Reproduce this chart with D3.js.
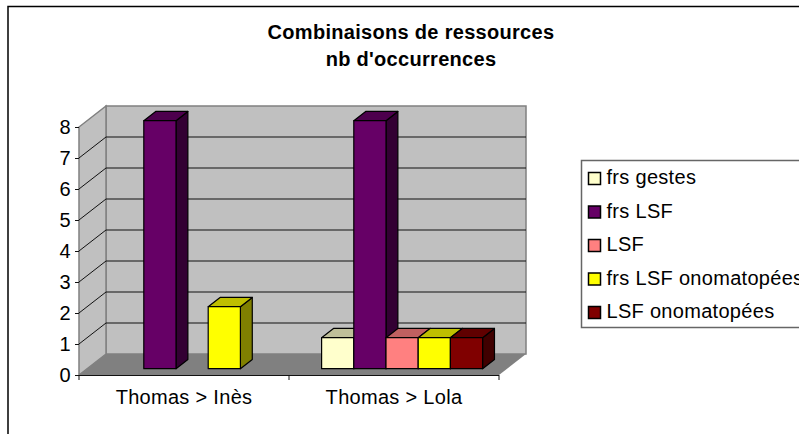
<!DOCTYPE html>
<html>
<head>
<meta charset="utf-8">
<script src="https://cdn.jsdelivr.net/npm/d3@7"></script>
<style>
	html, body { margin: 0; padding: 0; background: #fff; overflow: hidden; }
	svg { display: block; }
	text { font-family: "Liberation Sans", Arial, sans-serif; fill: #000; letter-spacing: 0.3px; }
</style>
</head>
<body>
<script>
const categories = ["Thomas > Inès", "Thomas > Lola"];
const seriesNames = ["frs gestes", "frs LSF", "LSF", "frs LSF onomatopées", "LSF onomatopées"];
const seriesColors = ["#ffffcc", "#660066", "#ff8080", "#ffff00", "#800000"];
const inesValues = [0, 8, 0, 2, 0];
const lolaValues = [1, 8, 1, 1, 1];
const valuesByCategory = [inesValues, lolaValues];
const yTicks = [0, 1, 2, 3, 4, 5, 6, 7, 8];
const titleLines = ["Combinaisons de ressources", "nb d'occurrences"];

const width = 799;
const height = 434;

const svg = d3
	.select("body")
	.append("svg")
	.attr("width", width)
	.attr("height", height)
	.attr("viewBox", [0, 0, width, height]);

// chart frame, only top and left are in the picture
svg.append("path")
	.attr("d", "M8,434V6.5H799")
	.attr("fill", "none")
	.attr("stroke", "#000")
	.attr("stroke-width", 1.5);

// * SCALES
const x = d3.scaleBand().domain(categories).range([79, 499]);
const y = d3.scaleLinear().domain([0, 8]).range([375, 127]);
const series = d3
	.scaleBand()
	.domain(seriesNames)
	.range([0, 161]);

// 3D offset of the box: d = 0 front, d = 1 back
const depthX = 27;
const depthY = -21;
const project = (px, py, d) => [px + depthX * d, py + depthY * d];
const poly = (pts) => pts.map((p) => p.join(",")).join(" ");

// * WALLS
const [x0, x1] = x.range();
const wall = svg.append("g");
wall.append("polygon")
	.attr("points", poly([project(x0, y(0), 1), project(x1, y(0), 1), project(x1, y(8), 1), project(x0, y(8), 1)]))
	.attr("fill", "#c0c0c0")
	.attr("stroke", "#808080")
	.attr("stroke-width", 1.5);
wall.append("polygon")
	.attr("points", poly([project(x0, y(0), 0), project(x0, y(0), 1), project(x0, y(8), 1), project(x0, y(8), 0)]))
	.attr("fill", "#c0c0c0")
	.attr("stroke", "#808080")
	.attr("stroke-width", 1.5);
wall.append("polygon")
	.attr("points", poly([project(x0, y(0), 0), project(x1, y(0), 0), project(x1, y(0), 1), project(x0, y(0), 1)]))
	.attr("fill", "#808080");

// * GRIDLINES
const grid = yTicks.filter((t) => t > 0 && t < 8);
wall.selectAll("path.grid")
	.data(grid)
	.join("path")
	.attr("class", "grid")
	.attr("fill", "none")
	.attr("stroke", "#111")
	.attr("d", (t) => {
		const a = project(x0, y(t), 0);
		const b = project(x0, y(t), 1);
		const c = project(x1, y(t), 1);
		return `M${a}L${b}L${c}`;
	});

// * BARS
const depthFront = 0.3;
const depthBack = 0.74;
const barsPadding = (x.bandwidth() - series.range()[1]) / 2;
const bars = [];
categories.forEach((cat, i) => {
	valuesByCategory[i].forEach((v, j) => {
		if (v > 0) bars.push({ cat, name: seriesNames[j], color: seriesColors[j], v });
	});
});

// left to right, each bar covers the side of the one before
const barG = svg
	.append("g")
	.selectAll("g")
	.data(bars)
	.join("g")
	.attr("stroke", "#000")
	.attr("stroke-width", 1.2)
	.attr("stroke-linejoin", "round");

const barLeft = (d) => x(d.cat) + barsPadding + series(d.name);
const barRight = (d) => barLeft(d) + series.bandwidth();

barG.append("polygon") // side
	.attr("fill", (d) => {
		const c = d3.rgb(d.color);
		return d3.rgb(c.r * 0.5, c.g * 0.5, c.b * 0.5).formatHex();
	})
	.attr("points", (d) =>
		poly([
			project(barRight(d), y(0), depthFront),
			project(barRight(d), y(0), depthBack),
			project(barRight(d), y(d.v), depthBack),
			project(barRight(d), y(d.v), depthFront),
		])
	);
barG.append("polygon") // top
	.attr("fill", (d) => {
		const c = d3.rgb(d.color);
		return d3.rgb(c.r * 0.75, c.g * 0.75, c.b * 0.75).formatHex();
	})
	.attr("points", (d) =>
		poly([
			project(barLeft(d), y(d.v), depthFront),
			project(barRight(d), y(d.v), depthFront),
			project(barRight(d), y(d.v), depthBack),
			project(barLeft(d), y(d.v), depthBack),
		])
	);
barG.append("polygon") // front
	.attr("fill", (d) => d.color)
	.attr("points", (d) =>
		poly([
			project(barLeft(d), y(0), depthFront),
			project(barRight(d), y(0), depthFront),
			project(barRight(d), y(d.v), depthFront),
			project(barLeft(d), y(d.v), depthFront),
		])
	);

// * AXES
const yAxis = svg
	.append("g")
	.attr("transform", `translate(${x0},0)`)
	.call(d3.axisLeft(y).tickValues(yTicks).tickFormat(d3.format("d")).tickSize(4).tickPadding(4));
yAxis.select(".domain").remove();
yAxis.selectAll("text").attr("font-size", 20).style("font-family", '"Liberation Sans", Arial, sans-serif');
yAxis.selectAll("line").attr("stroke", "#111");

// floor edge and category ticks
svg.append("path")
	.attr("fill", "none")
	.attr("stroke", "#111")
	.attr("d", `M${x0},${y(0) + 0.5}H${x1}`);
svg.append("path")
	.attr("fill", "none")
	.attr("stroke", "#111")
	.attr("d", `M${x0},${y(0)}V${y(0) + 5}M${x(categories[1])},${y(0)}V${y(0) + 5}M${x1},${y(0)}V${y(0) + 5}`);

svg.append("g")
	.selectAll("text")
	.data(categories)
	.join("text")
	.attr("x", (d) => x(d) + x.bandwidth() / 2)
	.attr("y", 404)
	.attr("text-anchor", "middle")
	.attr("font-size", 20)
	.text((d) => d);

// * TITLE
svg.append("g")
	.selectAll("text")
	.data(titleLines)
	.join("text")
	.attr("x", 411)
	.attr("y", (d, i) => 39 + i * 27)
	.attr("text-anchor", "middle")
	.attr("font-size", 20)
	.attr("font-weight", "bold")
	.attr("letter-spacing", 0.4)
	.text((d) => d);

// * LEGEND
const legend = svg.append("g");
legend.append("rect")
	.attr("x", 581.5)
	.attr("y", 160.5)
	.attr("width", 240)
	.attr("height", 167)
	.attr("fill", "#fff")
	.attr("stroke", "#666")
	.attr("stroke-width", 1.5);
const legendY = d3.scalePoint().domain(seriesNames).range([178, 312]);
const item = legend
	.selectAll("g")
	.data(seriesNames)
	.join("g")
	.attr("transform", (d) => `translate(588,${legendY(d)})`);
item.append("rect")
	.attr("x", 0.5)
	.attr("y", -5.5)
	.attr("width", 12)
	.attr("height", 12)
	.attr("stroke", "#000")
	.attr("stroke-width", 1.5)
	.attr("fill", (d, i) => seriesColors[i]);
item.append("text")
	.attr("x", 18.5)
	.attr("y", 6)
	.attr("font-size", 20)
	.text((d) => d);
</script>
</body>
</html>
